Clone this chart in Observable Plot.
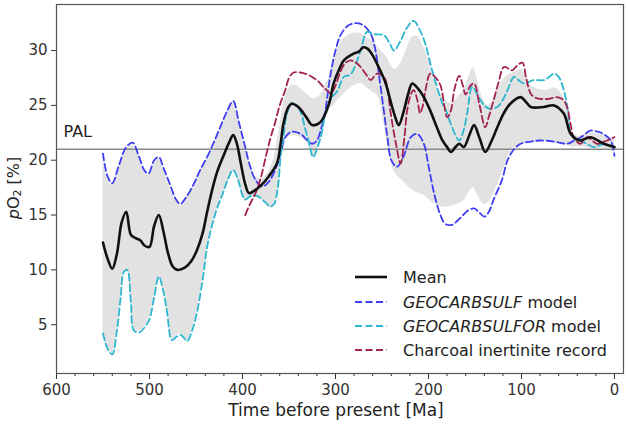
<!DOCTYPE html>
<html><head><meta charset="utf-8">
<script src="https://cdn.jsdelivr.net/npm/d3@7"></script>
<script src="https://cdn.jsdelivr.net/npm/@observablehq/plot@0.6"></script>
<style>
body{margin:0;background:#fff;font-family:"DejaVu Sans",sans-serif;}
#wrap{position:relative;width:628px;height:424px;overflow:hidden;}
.lab{position:absolute;color:#222;white-space:nowrap;}
.row{position:absolute;left:355px;height:22px;display:flex;align-items:center;font-size:16px;color:#222;white-space:nowrap;}
.row svg{margin-right:16px;}
</style></head><body><div id="wrap"></div>
<script>
// ---- data (age in Ma, pO2 in %) ----
const meanSeries = [[550,12.5],[545,11],[540,10.1],[535,11.5],[530,14.3],[525,15.3],[520,13.2],[515,12.9],[510,12.7],[505,12.2],[500,12.1],[495,14],[490,15],[485,13.5],[480,11.5],[475,10.3],[470,10],[462,10.2],[455,10.8],[449,11.8],[443,13.3],[438,15.3],[432,17.5],[427,19],[420,20.5],[414,21.7],[410,22.3],[406,21.5],[402,19.8],[397,17.8],[393,17],[386,17.3],[379,17.8],[372,18.5],[363,19.7],[359,21.5],[356,23.3],[351,24.8],[347,25.15],[340,24.85],[332,24],[325,23.2],[316,23.5],[307,25.15],[302,27],[296,28.3],[291,29.1],[281,29.7],[275,29.9],[270,30.3],[266,30.2],[261,29.7],[252,28.2],[246,27],[241,25.45],[236,24],[232,23.2],[226.5,24.5],[222,26],[217.5,27],[211,26.5],[205,25.75],[198,24.5],[191,23],[185,21.8],[180,21.2],[176,20.75],[171,21.2],[167,21.5],[162,21.2],[156,22.3],[151,23.2],[145,22],[139,20.75],[132,21.8],[126,23],[119,24.3],[112,25.15],[101,25.75],[95,25.3],[90,24.85],[76,24.85],[65,25],[54.5,24.25],[47,22.4],[37,21.8],[26,22.1],[11.5,21.5],[0,21.2]];

const sulfSeries = [[550,20.6],[545,18.5],[540,17.9],[533,19.5],[525,21.2],[518,21.6],[512,20.5],[505,19],[501,18.8],[495,20],[490,20.3],[485,19.3],[478,17.8],[472,16.5],[467,16],[460,16.7],[452,17.9],[445,19.2],[438,20.3],[430,21.8],[424,23],[417,24.4],[410,25.4],[404,23.5],[398,21.5],[392,19.5],[386,18.2],[379,17.6],[372,18],[365,19.1],[359,20.6],[354,22.1],[347,22.6],[340,22.5],[336,22.3],[330,21.8],[325,21.5],[320,21.8],[315,23],[311,24.5],[306,27.5],[300,30],[294,31.5],[286,32.3],[278,32.5],[270,32.3],[262,31.5],[257,30],[252,27],[248,24.5],[244,22],[240,20],[234,19.4],[227,20.3],[219,22.1],[212,22.4],[205,21.5],[200,19.5],[194,17],[188,15.2],[182,14.2],[175,14.1],[165,14.8],[158,15.4],[151,15.6],[145,15.2],[140,14.85],[135,15.3],[130,16.4],[121,18.2],[115,20],[108,21],[101,21.5],[90,21.7],[80,21.8],[65,21.7],[51,21.5],[43,21.8],[36,22.1],[26,22.7],[18,22.6],[12,22.4],[4,21.8],[0,20.4]];

const sulforSeries = [[550,4.2],[545,2.8],[540,2.3],[535,4.5],[531,7.5],[527.6,9.8],[524,10],[520,7],[517,4.5],[511,4.3],[505,4.8],[500,5.5],[495,7.5],[490,9.4],[485,8],[481,6.1],[476,3.6],[471,3.9],[467,4.1],[463,3.8],[459.5,3.5],[454,4.5],[449,6.1],[443,9],[438,12.1],[432,14.3],[427,15.7],[421,17],[416,18.2],[410,19.1],[404,18],[400,16.8],[397,16.4],[390,16.8],[383,16.7],[376,16.2],[370,15.8],[366,16],[362,17.5],[359,20.3],[356,22.2],[352,24.3],[347,25.2],[342,25],[337,24.3],[333,23],[329,21.8],[324,20.3],[318,21.5],[314,22.8],[311,24.3],[305,25.6],[298,26.3],[291,27.6],[284,27.8],[278,28.8],[273,30],[266,31.7],[259,31.5],[248,31.4],[242,30.7],[237,30],[230,30.9],[223,32.1],[216,32.7],[209,31.8],[203,30.5],[198,28.8],[191,26.7],[185,25.2],[180,24.3],[176,23.3],[167,21.8],[162,22.8],[158,24.5],[153,26.7],[146,25.75],[140,25],[135,24.7],[126,24.85],[120,25.5],[115,26.4],[108,27.6],[103,27.3],[97.5,27],[87,27.3],[76,27.3],[70,27.6],[65,27.9],[60,27.6],[54.5,26.4],[50,24.5],[47,22.4],[42,21.9],[37,21.8],[30,21.5],[22,21.2],[11.5,21.5],[5,21.3],[0,21.2]];

const charcoalSeries = [[397,15],[392,16],[386,17],[380,18.5],[375,20.3],[370,22],[365,23.4],[360,25],[354,26.4],[350,27.5],[345,28],[338,28],[330,27.8],[320,27.3],[312,26.6],[305,26.1],[300,26.8],[295,28],[290,28.8],[284,29.1],[278,28.9],[273,28.5],[267,27.8],[262,27.3],[258,27.7],[255,27.9],[248,27.6],[244,26.5],[241,24.5],[235,21.5],[230,19.7],[226,22],[223,24.5],[219,26],[216,26.4],[212,25.5],[209,24.3],[206,25],[203,26.5],[198,27.9],[192,27.5],[187,26.8],[183,25],[180,23.9],[176,24.5],[172,26.5],[167,27.7],[163,26.8],[160,26],[155,26.8],[151,27],[145,25],[139,23],[135,24],[130,25.45],[125,27],[119,28.5],[115,28.4],[110,28.2],[105,28.6],[99,28.9],[95,27.5],[90,26.06],[85,25.7],[80,25.6],[70,25.6],[62,25.75],[55,25.5],[51,24.85],[47,23.2],[44,22.1],[37,21.5],[33,21.8],[29,22.1],[24,21.8],[19,21.5],[14,21.6],[8,21.8],[3,22],[0,22.1]];

const bandAge = [550,545,540,535,531,527,524,520,517,511,505,500,495,490,485,481,476,471,467,463,459,454,449,443,438,432,427,421,416,410,404,400,397,392,386,380,375,370,366,362,359,356,352,347,342,336,330,324,318,314,310,306,300,294,288,280,272,266,260,254,249,244,240,236,230,224,218,212,205,198,190,182,175,168,162,157,152,147,141,136,131,126,120,114,108,100,92,86,80,72,65,58,53,49,45,40,33,25,18,12,6,0];
const bandHigh = [20.5,18.3,17.8,18.8,19.8,20.6,21.1,21.4,21.3,20.2,18.8,18.7,19.8,20.1,19.1,18.1,17.1,16.3,15.9,16.2,16.8,17.5,18.4,19.4,20.1,21.2,22.2,23.5,24.4,25.2,23.4,22,21,19.5,18.5,18.3,18.6,19.3,20.3,22,23.6,25.2,26.3,26.8,26.8,26.4,26,25.6,25.8,26.3,27,27.8,29.6,30.8,31.3,31.6,31.5,31.2,30.8,30.2,29.8,29.3,28.6,28.3,28.8,30,31.2,31.3,30.3,28.6,26.5,25.5,25.2,25.8,26.5,27.5,28.4,27.2,25.5,25,25.5,26.3,27.3,27.8,28,28.3,27,26.6,26.4,26.4,26.6,26.2,25.3,23.8,22.6,22.2,22.3,22.5,22.4,22.3,22.1,21.9];
const bandLow = [4.3,2.9,2.4,4.6,7.6,9.8,10,7.1,4.6,4.4,4.9,5.6,7.6,9.4,8.1,6.2,3.7,4,4.2,3.9,3.6,4.6,6.2,9.1,12.1,14.3,15.7,17,18.1,19,17.9,16.7,16.3,16.6,16.6,16.4,16.1,15.6,15.8,17.3,20,21.5,22,22.2,22.2,22,21.5,20.2,21.2,22.5,23.8,24.6,25.2,25.8,26.3,26.8,27,26.6,26.2,25.8,23.8,21.5,19.8,18.8,18.3,17.8,17.3,17,16.8,16.3,15.9,15.7,15.8,16,16.3,17,17.5,16.8,16,16.1,16.8,17.7,19,20.4,21.1,21.5,21.6,21.6,21.7,21.7,21.6,21.5,21.4,21.3,21.2,21.2,21.2,21.1,21,21.1,21,20.6];

const PAL = 21;
const xMajorTicks = [600,500,400,300,200,100,0];
const xMinorTicks = d3.range(0, 601, 20);
const yTicks = [5,10,15,20,25,30];

const seriesNames = ["Mean","GEOCARBSULF","GEOCARBSULFOR","Charcoal inertinite record"];
const seriesColors = ["#111111","#3d3df2","#2db6cf","#a3234f"];

// ---- build ----
const rows = s => s.map(([age, o2]) => ({age, o2}));
const band = bandAge.map((a, i) => ({age: a, lo: bandLow[i], hi: bandHigh[i]}));
const curve = "catmull-rom";
const dashed = (data, color) => Plot.line(rows(data), {x: "age", y: "o2", stroke: color, strokeWidth: 1.8, strokeDasharray: "7,3.5", curve});

const chart = Plot.plot({
  width: 628, height: 424,
  marginLeft: 56, marginRight: 5, marginTop: 4, marginBottom: 51,
  style: {fontFamily: "DejaVu Sans, sans-serif", fontSize: "15px", color: "#333", background: "#fff"},
  x: {domain: [600, -9.7]},
  y: {domain: [0.55, 34.2]},
  marks: [
    Plot.areaY(band, {x: "age", y1: "lo", y2: "hi", fill: "#e2e2e2", curve}),
    Plot.ruleY([PAL], {stroke: "#8a8a8a", strokeWidth: 1.3}),
    Plot.text([PAL], {y: d => d, frameAnchor: "left", text: () => "PAL", dx: 7, dy: -17, textAnchor: "start", fontSize: 16, fill: "#222"}),
    dashed(sulfSeries, seriesColors[1]),
    dashed(sulforSeries, seriesColors[2]),
    dashed(charcoalSeries, seriesColors[3]),
    Plot.line(rows(meanSeries), {x: "age", y: "o2", stroke: seriesColors[0], strokeWidth: 2.6, curve}),
    Plot.axisY({ticks: yTicks, tickSize: 5, tickPadding: 4, label: null, fill: "#333"}),
    Plot.axisX({ticks: xMinorTicks, tickSize: 3, tickFormat: () => "", label: null}),
    Plot.axisX({ticks: xMajorTicks, tickSize: 6, tickPadding: 5, label: null, fill: "#333"}),
    Plot.frame({stroke: "#555", strokeWidth: 1.2})
  ]
});
const wrap = document.getElementById("wrap");
wrap.appendChild(chart);

// axis titles
const ylab = document.createElement("div");
ylab.className = "lab";
ylab.style.cssText = "left:14px;top:188px;font-size:16px;transform:translate(-50%,-50%) rotate(-90deg);";
ylab.innerHTML = "<i>p</i>O<sub style='font-size:11px;vertical-align:-2px'>2</sub> [%]";
wrap.appendChild(ylab);

const xlab = document.createElement("div");
xlab.className = "lab";
xlab.style.cssText = "left:336px;top:410px;font-size:17px;transform:translate(-50%,-50%);";
xlab.textContent = "Time before present [Ma]";
wrap.appendChild(xlab);

// legend
const legendLabels = ["Mean", "<i>GEOCARBSULF</i> model", "<i>GEOCARBSULFOR</i> model", "Charcoal inertinite record"];
const legendTops = [266, 291, 315, 339];
seriesNames.forEach((name, i) => {
  const r = document.createElement("div");
  r.className = "row";
  r.style.top = legendTops[i] + "px";
  const dash = i === 0 ? "" : "stroke-dasharray='7,3.5'";
  const w = i === 0 ? 2.6 : 1.8;
  r.innerHTML = `<svg width="32" height="10"><line x1="0" y1="5" x2="32" y2="5" stroke="${seriesColors[i]}" stroke-width="${w}" ${dash}/></svg><span>${legendLabels[i]}</span>`;
  wrap.appendChild(r);
});
</script></body></html>
